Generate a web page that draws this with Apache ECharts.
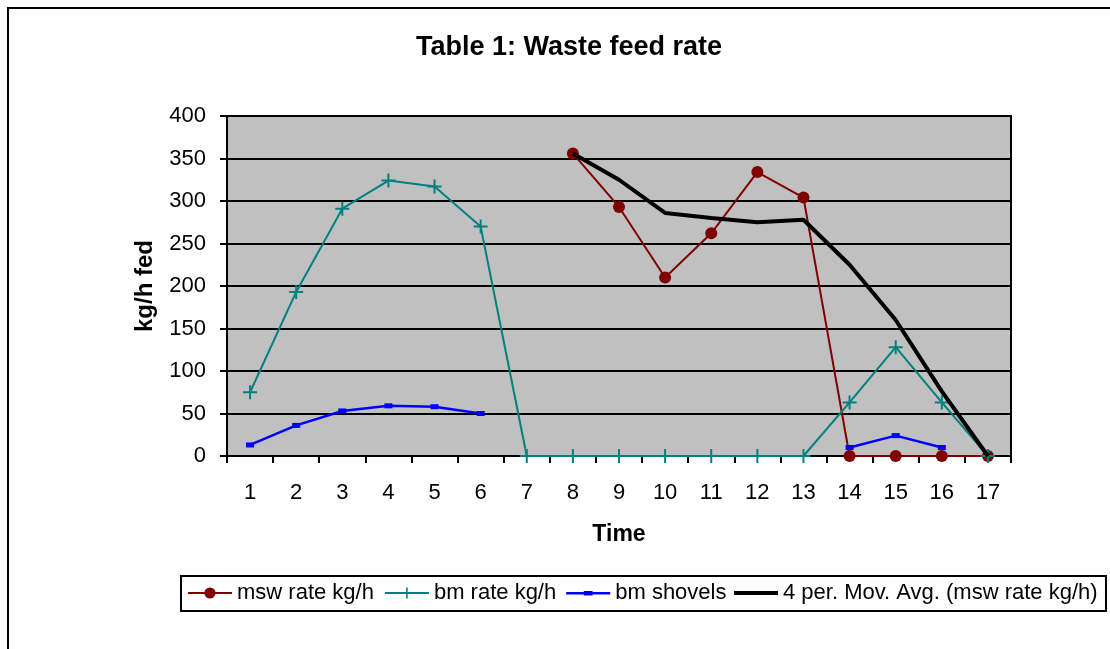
<!DOCTYPE html>
<html>
<head>
<meta charset="utf-8">
<script src="https://cdn.jsdelivr.net/npm/echarts@6/dist/echarts.min.js"></script>
<style>
	html, body { margin: 0; padding: 0; background: #fff; }
	#chart { width: 1110px; height: 649px; }
</style>
</head>
<body>
<div id="chart"></div>
<script>
	// time steps
	var times = ['1','2','3','4','5','6','7','8','9','10','11','12','13','14','15','16','17'];
	// msw rate kg/h
	var mswRate = [null, null, null, null, null, null, null, 356, 293, 210, 262, 334, 304, 0, 0, 0, 0];
	// bm rate kg/h
	var bmRate = [75, 193, 291, 324, 317, 270, 0, 0, 0, 0, 0, 0, 0, 63, 128, 63, 0];
	// bm shovels
	var bmShovels = [13, 36, 53, 59, 58, 50, null, null, null, null, null, null, null, 10, 24, 10, null];
	// 4 per. Mov. Avg. (msw rate kg/h)
	var movAvg = [null, null, null, null, null, null, null, 356, 325, 286, 280, 275, 278, 225, 160, 76, 0];

	var plusPath = 'path://M6,0h2v14h-2z M0,6h14v2h-14z';
	// legend icons, tiny corner dots keep the box so they are not stretched
	var dashIcon = 'path://M0,0h0.01v0.01h-0.01z M0,14h0.01v0.01h-0.01z M0,6h45v2.5h-45z M18,5h9v4.5h-9z';
	var thickIcon = 'path://M0,0h0.01v0.01h-0.01z M0,14h0.01v0.01h-0.01z M0,5h45v4h-45z';
	var font = 'Liberation Sans, Arial, sans-serif';

	var legendBase = {
		top: 582,
		itemWidth: 44,
		itemHeight: 14,
		itemGap: 10,
		padding: 0,
		textStyle: { fontSize: 22, color: '#000', fontFamily: font }
	};

	var chart = echarts.init(document.getElementById('chart'));

	var option = {
		animation: false,
		backgroundColor: '#fff',
		textStyle: { fontFamily: font },
		title: {
			text: 'Table 1: Waste feed rate',
			left: 411,
			top: 29,
			textStyle: { fontSize: 27, fontWeight: 'bold', color: '#000', fontFamily: font }
		},
		graphic: [{
			// outer border of chart area
			type: 'rect',
			shape: { x: 8, y: 8, width: 1200, height: 700 },
			style: { fill: 'none', stroke: '#000', lineWidth: 2 },
			silent: true
		}, {
			// legend box
			type: 'rect',
			shape: { x: 181, y: 576, width: 925, height: 35 },
			style: { fill: '#fff', stroke: '#000', lineWidth: 2 },
			silent: true,
			z: -1
		}],
		legend: [
			Object.assign({}, legendBase, {
				left: 187,
				data: [
					{ name: 'msw rate kg/h' },
					{ name: 'bm rate kg/h' },
					{ name: 'bm shovels', icon: dashIcon }
				]
			}),
			Object.assign({}, legendBase, {
				left: 734,
				data: [
					{ name: '4 per. Mov. Avg. (msw rate kg/h)', icon: thickIcon }
				]
			})
		],
		grid: {
			left: 227,
			right: 99,
			top: 116,
			bottom: 193,
			show: true,
			backgroundColor: '#c0c0c0',
			borderColor: '#000',
			borderWidth: 2
		},
		xAxis: {
			type: 'category',
			data: times,
			boundaryGap: true,
			name: 'Time',
			nameLocation: 'middle',
			nameGap: 67,
			nameTextStyle: { fontSize: 23, fontWeight: 'bold', color: '#000' },
			axisLine: { lineStyle: { color: '#000', width: 2 } },
			axisTick: { show: true, length: 7, lineStyle: { color: '#000', width: 2 } },
			axisLabel: { fontSize: 22, color: '#000', margin: 26 }
		},
		yAxis: {
			type: 'value',
			min: 0,
			max: 400,
			interval: 50,
			name: 'kg/h fed',
			nameLocation: 'middle',
			nameGap: 70,
			nameTextStyle: { fontSize: 24, fontWeight: 'bold', color: '#000' },
			axisLine: { show: true, lineStyle: { color: '#000', width: 2 } },
			axisTick: { show: true, length: 7, lineStyle: { color: '#000', width: 2 } },
			axisLabel: { fontSize: 22, color: '#000', margin: 21 },
			splitLine: { lineStyle: { color: '#000', width: 2 } }
		},
		series: [{
			name: 'msw rate kg/h',
			type: 'line',
			data: mswRate,
			color: '#800000',
			symbol: 'circle',
			symbolSize: 12,
			lineStyle: { width: 2 },
			z: 3
		}, {
			name: 'bm rate kg/h',
			type: 'line',
			data: bmRate,
			color: '#008080',
			symbol: plusPath,
			symbolSize: 14,
			lineStyle: { width: 2 },
			z: 4
		}, {
			name: 'bm shovels',
			type: 'line',
			data: bmShovels,
			color: '#0000ff',
			symbol: 'rect',
			symbolSize: [8, 5],
			lineStyle: { width: 2.5 },
			z: 4
		}, {
			name: '4 per. Mov. Avg. (msw rate kg/h)',
			type: 'line',
			data: movAvg,
			color: '#000',
			symbol: 'none',
			lineStyle: { width: 4 },
			z: 5
		}]
	};

	chart.setOption(option);
</script>
</body>
</html>
